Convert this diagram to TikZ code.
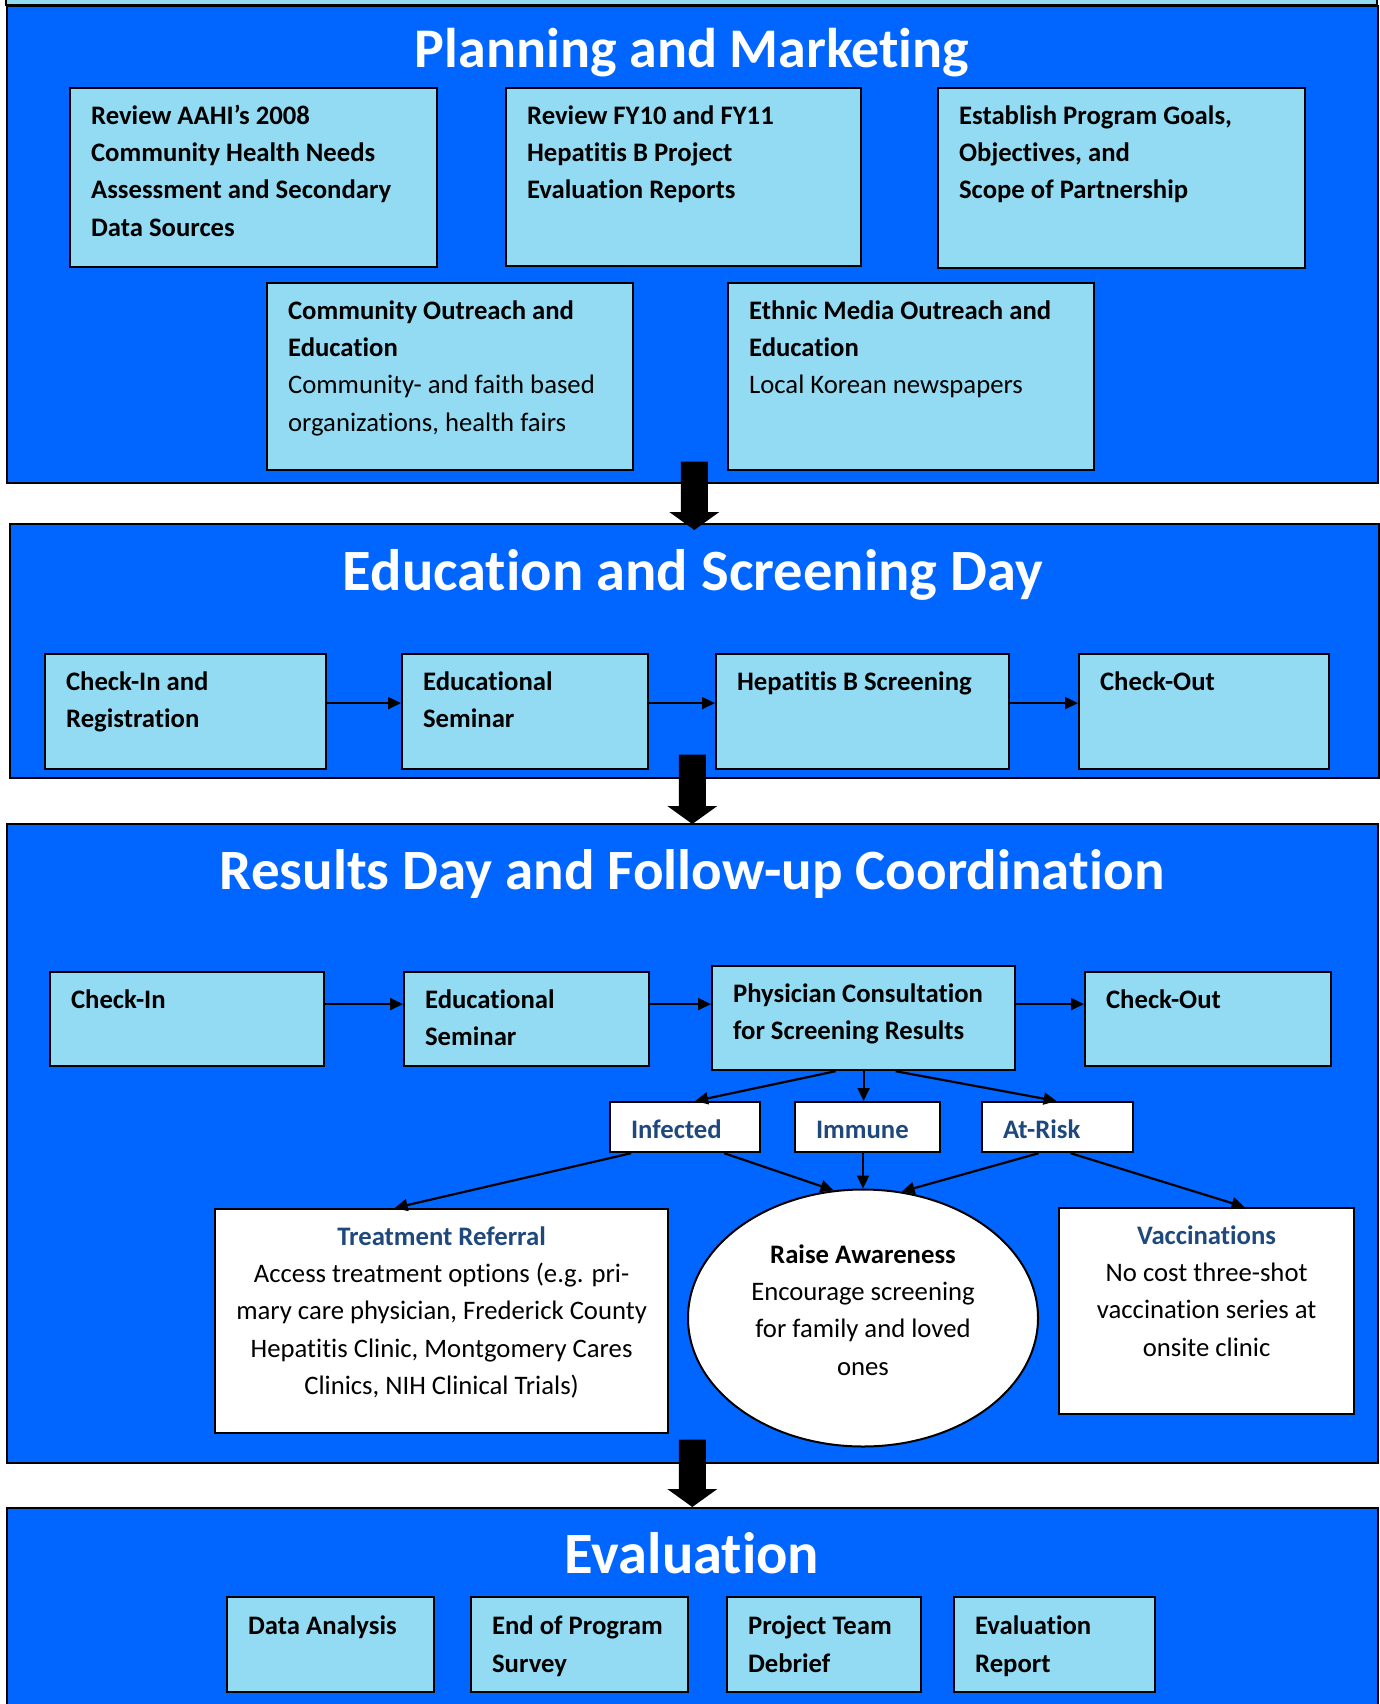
\documentclass[tikz,border=0pt]{standalone}
\usepackage{fontspec}
\setmainfont{Carlito}[Ligatures={NoCommon,NoContextual}]
\usetikzlibrary{calc,arrows.meta,shapes.geometric}
\definecolor{panelblue}{RGB}{0,102,255}
\definecolor{lcyan}{RGB}{147,219,243}
\definecolor{dblue}{RGB}{31,73,125}
\newcommand\tI{t\kern0pt i}
\newlength\bxs \setlength\bxs{21pt}
\newlength\bys \setlength\bys{10pt}
\newcommand\cellt[3]{\parbox[t][\dimexpr#2pt-2\bys\relax][t]{\dimexpr#1pt-2\bxs\relax}{\raggedright\strut #3}}
\newcommand\cellc[3]{\parbox[t][\dimexpr#2pt-2\bys\relax][t]{\dimexpr#1pt-2\bxs\relax}{\centering\strut #3}}
\tikzset{
  panel/.style={draw=black, line width=1.6pt, fill=panelblue, anchor=north west, inner sep=0pt},
  ttl/.style={text=white, font=\fontsize{57}{60}\selectfont\bfseries, anchor=base, inner sep=0pt},
  cbox/.style={draw=black, line width=2.2pt, fill=lcyan, anchor=north west, inner xsep=\bxs, inner ysep=\bys,
    font=\fontsize{26.7}{37.3}\selectfont\bfseries},
  wbox/.style={cbox, fill=white, font=\fontsize{26.7}{37.3}\selectfont},
  ibox/.style={cbox, fill=white, text=dblue},
  ell/.style={ellipse, draw=black, line width=2pt, fill=white, minimum width=350pt, minimum height=257pt,
    inner sep=0pt, align=center, font=\fontsize{26.7}{37.3}\selectfont},
  link/.style={line width=2.2pt, -{Triangle[length=13pt,width=12pt]}},
  bigarrow/.style={fill=black},
}
\begin{document}
\begin{tikzpicture}[x=1pt,y=-1pt]
\useasboundingbox (0,0) rectangle (1379,1704);
\fill[white] (0,0) rectangle (1379,1704);
% partial box cut at top
\draw[fill=lcyan, line width=1.6pt] (6,-10) rectangle (1377,5);

% panels
\node[panel, minimum width=1371pt, minimum height=477pt] (p1) at (6,5) {};
\node[panel, minimum width=1369pt, minimum height=254pt] (p2) at (9,523) {};
\node[panel, minimum width=1371pt, minimum height=639pt] (p3) at (6,823) {};
\node[panel, minimum width=1371pt, minimum height=240pt] (p4) at (6,1507) {};

% titles
\node[ttl, font=\fontsize{56}{60}\selectfont\bfseries] (t1) at (692,68) {Planning and Marke\tI ng};
\node[ttl, font=\fontsize{58.5}{60}\selectfont\bfseries] (t2) at (693,590) {Educa\tI on and Screening Day};
\node[ttl] (t3) at (692,889) {Results Day and Follow-up Coordina\tI on};
\node[ttl, font=\fontsize{58.5}{60}\selectfont\bfseries] (t4) at (692,1573) {Evalua\tI on};

% Planning and Marketing
\node[cbox] (a) at (69,87) {\cellt{367}{179}{Review AAHI’s 2008\\Community Health Needs\\Assessment and Secondary\\Data Sources}};
\node[cbox] (b) at (505,87) {\cellt{355}{178}{Review FY10 and FY11\\Hepa\tI\tI s B Project\\Evalua\tI on Reports}};
\node[cbox] (c) at (937,87) {\cellt{367}{180}{Establish Program Goals,\\Objec\tI ves, and\\Scope of Partnership}};
\node[cbox] (d) at (266,282) {\cellt{366}{187}{Community Outreach and\\Educa\tI on\\{\mdseries Community- and faith based\\organiza\tI ons, health fairs}}};
\node[cbox] (e) at (727,282) {\cellt{366}{187}{Ethnic Media Outreach and\\Educa\tI on\\{\mdseries Local Korean newspapers}}};

% Education and Screening Day
\node[cbox] (f) at (44,653) {\cellt{281}{115}{Check-In and\\Registra\tI on}};
\node[cbox] (g) at (401,653) {\cellt{246}{115}{Educa\tI onal\\Seminar}};
\node[cbox] (h) at (715,653) {\cellt{293}{115}{Hepa\tI\tI s B Screening}};
\node[cbox] (i) at (1078,653) {\cellt{250}{115}{Check-Out}};
\draw[link] ($(f.east)+(0,-8.5)$) -- ($(g.west)+(0,-8.5)$);
\draw[link] ($(g.east)+(0,-8.5)$) -- ($(h.west)+(0,-8.5)$);
\draw[link] ($(h.east)+(0,-8.5)$) -- ($(i.west)+(0,-8.5)$);

% Results Day
\node[cbox] (j) at (49,971) {\cellt{274}{94}{Check-In}};
\node[cbox] (k) at (403,971) {\cellt{245}{94}{Educa\tI onal\\Seminar}};
\node[cbox] (l) at (711,965) {\cellt{303}{104}{Physician Consulta\tI on\\for Screening Results}};
\node[cbox] (m) at (1084,971) {\cellt{246}{94}{Check-Out}};
\draw[link] ($(j.east)+(0,-15)$) -- ($(k.west)+(0,-15)$);
\draw[link] ($(k.east)+(0,-15)$) -- ($(l.west)+(0,-14)$);
\draw[link] ($(l.east)+(0,-14)$) -- ($(m.west)+(0,-15)$);

\node[ibox] (inf) at (609,1101) {\cellt{150}{50}{Infected}};
\node[ibox] (imm) at (794,1101) {\cellt{145}{50}{Immune}};
\node[ibox] (risk) at (981,1101) {\cellt{151}{50}{At-Risk}};

\node[wbox] (treat) at (214,1208) {\cellc{453}{224}{{\bfseries\color{dblue}Treatment Referral}\\Access treatment op\tI ons (e.g. pri-\\mary care physician, Frederick County\\Hepa\tI\tI s Clinic, Montgomery Cares\\Clinics, NIH Clinical Trials)}};
\node[wbox] (vacc) at (1058,1207) {\cellc{295}{206}{{\bfseries\color{dblue}Vaccina\tI ons}\\No cost three-shot\\vaccina\tI on series at\\onsite clinic}};
\node[ell] (aw) at (863,1318) {\strut\textbf{Raise Awareness}\\Encourage screening\\for family and loved\\ones\rule[-24pt]{0pt}{1pt}};

\draw[link] ($(l.south)+(-28,0)$) -- ($(inf.north)+(10,0)$);
\draw[link] (l.south) -- (l.south |- imm.north);
\draw[link] ($(l.south)+(32,0)$) -- ($(risk.north)+(-1,0)$);
\draw[link] ($(inf.south)+(-54,0)$) -- ($(treat.north)+(-47,0)$);
\draw[link] ($(inf.south)+(39,0)$) -- (aw.103);
\draw[link] (aw.north |- imm.south) -- (aw.north);
\draw[link] ($(risk.south)+(-19,0)$) -- (aw.73);
\draw[link] ($(risk.south)+(13,0)$) -- ($(vacc.north)+(38,0)$);

% Evaluation
\node[cbox, font=\fontsize{26.7}{38.5}\selectfont\bfseries] (q1) at (226,1596) {\cellt{207}{95}{Data Analysis}};
\node[cbox, font=\fontsize{26.7}{38.5}\selectfont\bfseries] (q2) at (470,1596) {\cellt{217}{95}{End of Program\\Survey}};
\node[cbox, font=\fontsize{26.7}{38.5}\selectfont\bfseries] (q3) at (726,1596) {\cellt{194}{95}{Project Team\\Debrief}};
\node[cbox, font=\fontsize{26.7}{38.5}\selectfont\bfseries] (q4) at (953,1596) {\cellt{201}{95}{Evalua\tI on\\Report}};

% block arrows between panels
\coordinate (b1) at ($(p2.north)+(0,7)$);
\coordinate (a1) at ($(b1 |- p1.south)+(0,-22)$);
\coordinate (b2) at ($(p3.north)+(0,1)$);
\coordinate (a2) at ($(b2 |- p2.south)+(0,-24)$);
\coordinate (b3) at ($(p4.north)+(0,0)$);
\coordinate (a3) at ($(b3 |- p3.south)+(0,-24)$);
\foreach \s/\t in {a1/b1,a2/b2,a3/b3}{
  \fill[bigarrow] ($(\s)+(-13.5,0)$) -- ($(\t)+(-13.5,-18)$) -- ($(\t)+(-25,-18)$) -- (\t)
    -- ($(\t)+(25,-18)$) -- ($(\t)+(13.5,-18)$) -- ($(\s)+(13.5,0)$) -- cycle;
}
\end{tikzpicture}
\end{document}
